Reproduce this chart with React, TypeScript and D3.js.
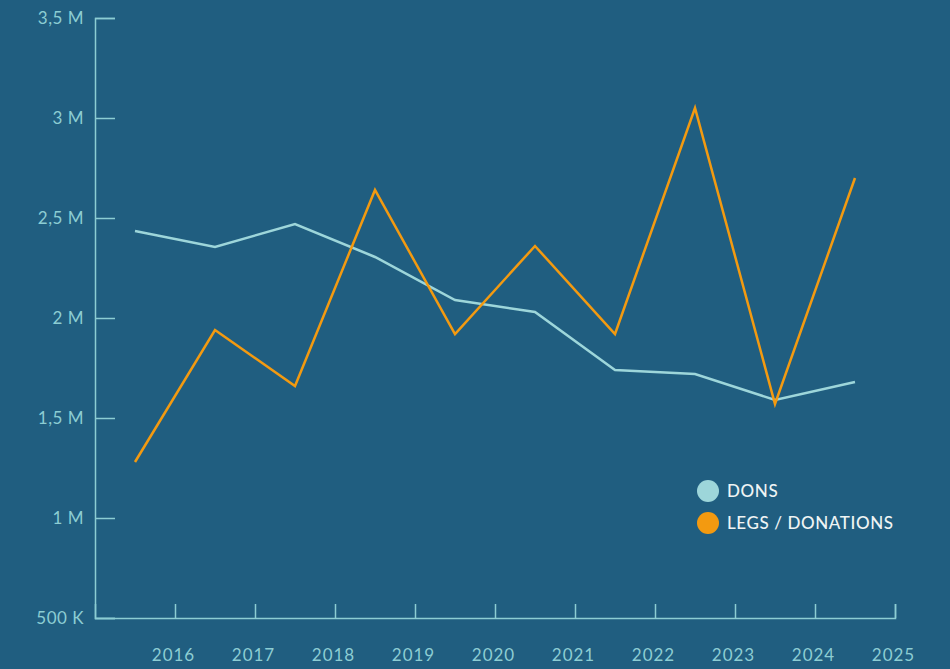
import { useEffect, useRef } from 'react';
import { scaleLinear, select, line, axisLeft, axisBottom } from 'd3';

const years = [2015, 2016, 2017, 2018, 2019, 2020, 2021, 2022, 2023, 2024];
const dons = [2.435, 2.355, 2.47, 2.305, 2.09, 2.03, 1.74, 1.72, 1.59, 1.68];
const legs = [1.28, 1.94, 1.66, 2.64, 1.92, 2.36, 1.92, 3.05, 1.57, 2.7];
const yTicks = [0.5, 1, 1.5, 2, 2.5, 3, 3.5];
const yTickLabels = ['500 K', '1 M', '1,5 M', '2 M', '2,5 M', '3 M', '3,5 M'];
const xTicks = [2016, 2017, 2018, 2019, 2020, 2021, 2022, 2023, 2024, 2025];
const seriesNames = ['DONS', 'LEGS / DONATIONS'];
const seriesColors = ['#9dd6da', '#f39a10'];

const App = () => {
    const svgRef = useRef<SVGSVGElement>(null);
    const width = 950;
    const height = 669;

    useEffect(() => {
        const svg = select(svgRef.current);
        svg.selectAll('*').remove();

        const axisColor = '#8ccdd3';
        const font = 'Lato, "Noto Sans", sans-serif';

        svg.append('rect')
            .attr('width', width)
            .attr('height', height)
            .attr('fill', '#205e80');

        // Scales
        const x = scaleLinear().domain([2015, 2025]).range([95, 895]);
        const y = scaleLinear().domain([0.5, 3.5]).range([618, 18]);

        // Left axis, ticks pointing inward
        const yAxis = svg.append('g')
            .attr('transform', 'translate(95,0)')
            .call(axisLeft(y).tickValues(yTicks).tickSize(-20).tickPadding(11)
                .tickFormat((d, i) => yTickLabels[i]));
        yAxis.select('.domain').attr('stroke', axisColor).attr('stroke-width', 1.5);
        yAxis.selectAll('.tick line').attr('stroke', axisColor).attr('stroke-width', 1.5);
        yAxis.selectAll('.tick text')
            .attr('fill', axisColor)
            .attr('font-family', font)
            .attr('font-size', 17)
            .attr('letter-spacing', 0.5);

        // Bottom axis, ticks pointing up
        const xAxis = svg.append('g')
            .attr('transform', 'translate(0,618)')
            .call(axisBottom(x).tickValues(xTicks).tickSize(-14).tickPadding(31)
                .tickFormat(d => String(d)));
        xAxis.select('.domain').attr('stroke', axisColor).attr('stroke-width', 1.5);
        xAxis.selectAll('.tick line').attr('stroke', axisColor).attr('stroke-width', 1.5);
        xAxis.selectAll('.tick text')
            .attr('fill', axisColor)
            .attr('font-family', font)
            .attr('font-size', 17)
            .attr('dx', -2)
            .attr('letter-spacing', 1);

        // Lines (data sits mid-year)
        const lineGen = line<number>()
            .x((d, i) => x(years[i] + 0.5))
            .y(d => y(d));

        [dons, legs].forEach((series, k) => {
            svg.append('path')
                .datum(series)
                .attr('fill', 'none')
                .attr('stroke', seriesColors[k])
                .attr('stroke-width', 2.5)
                .attr('stroke-linejoin', 'miter')
                .attr('d', lineGen);
        });

        // Legend
        const legend = svg.append('g').attr('transform', 'translate(708,491)');
        seriesNames.forEach((name, k) => {
            const g = legend.append('g').attr('transform', `translate(0,${k * 32})`);
            g.append('circle').attr('r', 11).attr('fill', seriesColors[k]);
            g.append('text')
                .attr('x', 19)
                .attr('y', 6)
                .attr('fill', '#eef4f4')
                .attr('font-family', font)
                .attr('font-size', 17)
                .attr('font-weight', 500)
                .attr('letter-spacing', 0.6)
                .text(name);
        });
    }, []);

    return (
        <svg ref={svgRef} width={width} height={height}
            style={{ position: 'absolute', left: 0, top: 0, display: 'block' }} />
    );
};

export default App;
